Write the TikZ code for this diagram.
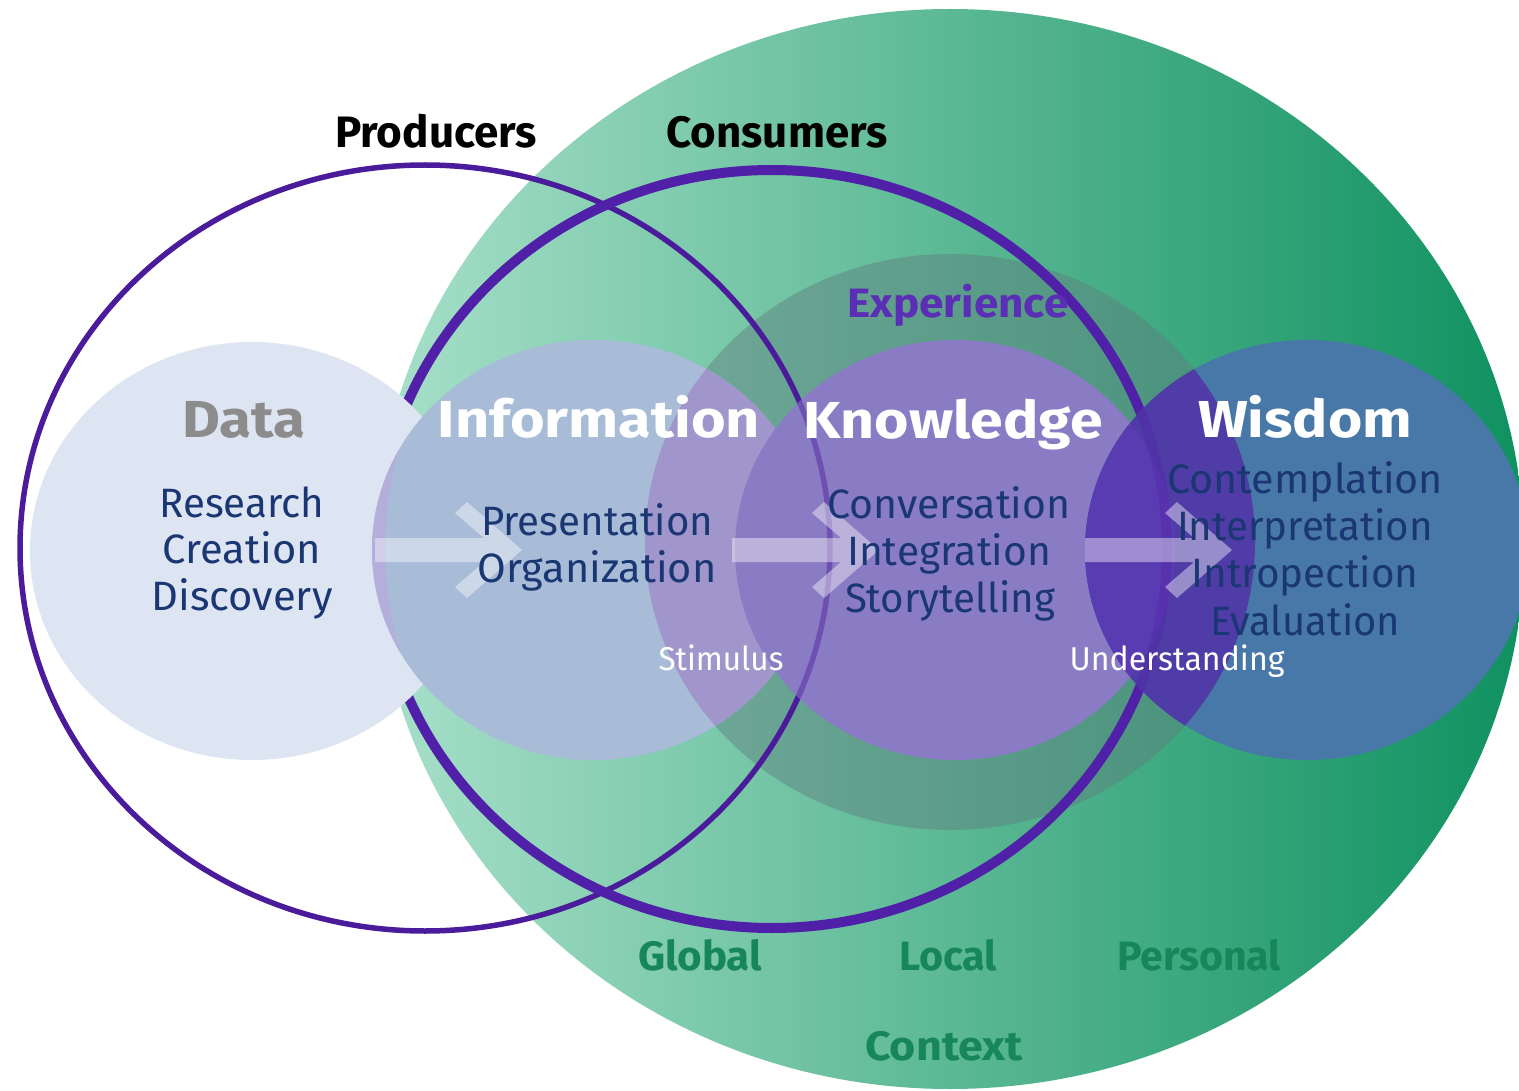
\documentclass[tikz,border=0pt]{standalone}
\usepackage{fontspec}
\setmainfont{Fira Sans}
\usepackage{graphicx}
\definecolor{gLeft}{HTML}{A8E0CA}
\definecolor{gRight}{HTML}{0F9160}
\definecolor{expC}{HTML}{5F7C7E}
\definecolor{lineP}{HTML}{4A1C9C}
\definecolor{lineC}{HTML}{5020A8}
\definecolor{dataC}{HTML}{DEE5F2}
\definecolor{infoC}{HTML}{A8BCD8}
\definecolor{lavC}{HTML}{A096CC}
\definecolor{bandC}{HTML}{B3AEDB}
\definecolor{knowC}{HTML}{8A7CC4}
\definecolor{wisC}{HTML}{4878A8}
\definecolor{lensC}{HTML}{4F3CA6}
\definecolor{lensK}{HTML}{5A3CB2}
\definecolor{navyC}{HTML}{1A3673}
\definecolor{expT}{HTML}{5B2FB5}
\definecolor{greenT}{HTML}{17875A}
\definecolor{grayT}{HTML}{8C8C8C}
\newcommand\fw[2]{\resizebox{#1pt}{\height}{#2}}
\begin{document}
\begin{tikzpicture}[x=1pt,y=-1pt,
  lbl/.style={inner sep=0pt, anchor=base},
  toplbl/.style={lbl, font=\bfseries\fontsize{44}{50}\selectfont, text=black},
  title/.style={lbl, font=\bfseries\fontsize{52}{60}\selectfont, text=white},
  datatitle/.style={lbl, font=\bfseries\fontsize{52}{60}\selectfont, text=grayT},
  exptitle/.style={lbl, font=\bfseries\fontsize{41}{48}\selectfont, text=expT},
  item/.style={lbl, font=\fontsize{41}{48}\selectfont, text=navyC},
  small/.style={lbl, font=\fontsize{33}{40}\selectfont, text=white},
  ctx/.style={lbl, font=\bfseries\fontsize{41}{48}\selectfont, text=greenT},
  prodline/.style={draw=lineP, line width=5.5pt},
  consline/.style={draw=lineC, line width=10pt},
  arrowfill/.style={fill=white, fill opacity=0.42}
]
\clip (0,0) rectangle (1519,1091);
\fill[white] (0,0) rectangle (1519,1091);

% Context (big green ellipse)
\shade[left color=gLeft, right color=gRight] (950,549) ellipse [x radius=574pt, y radius=540pt];

% Experience
\fill[expC, fill opacity=0.45] (950,542) ellipse [x radius=305pt, y radius=288pt];

% Producers and consumers outlines
\path[prodline] (425,548) ellipse [x radius=405pt, y radius=383pt];
\path[consline] (772,549) ellipse [x radius=395pt, y radius=379pt];

% Data
\fill[dataC] (252,551) ellipse [x radius=222pt, y radius=209pt];

% Information
\fill[infoC] (594,550) ellipse [x radius=222pt, y radius=210pt];
\begin{scope}
  \clip (594,550) ellipse [x radius=222pt, y radius=210pt];
  \draw[bandC, line width=16pt] (772,549) ellipse [x radius=395pt, y radius=379pt];
  \fill[lavC] (950,542) ellipse [x radius=305pt, y radius=288pt];
\end{scope}

% Knowledge
\fill[knowC] (955,550) ellipse [x radius=220pt, y radius=210pt];
\begin{scope}
  \clip (955,550) ellipse [x radius=220pt, y radius=210pt];
  \path[prodline, draw opacity=0.45] (425,548) ellipse [x radius=405pt, y radius=383pt];
  \path[consline, draw opacity=0.45] (772,549) ellipse [x radius=395pt, y radius=379pt];
\end{scope}

% Wisdom
\fill[wisC] (1307,550) ellipse [x radius=222pt, y radius=210pt];
\begin{scope}
  \clip (1307,550) ellipse [x radius=222pt, y radius=210pt];
  \fill[lensC] (950,542) ellipse [x radius=305pt, y radius=288pt];
  \fill[lensK] (955,550) ellipse [x radius=220pt, y radius=210pt];
  \begin{scope}
    \clip (950,542) ellipse [x radius=305pt, y radius=288pt];
    \path[consline, draw opacity=0.35] (772,549) ellipse [x radius=395pt, y radius=379pt];
  \end{scope}
\end{scope}

% Arrows
\foreach \s/\t in {375/522, 732/879, 1085/1232}{
  \fill[arrowfill] (\s,538) -- (\t-38,538) -- (\t-67,513) -- (\t-55,502) -- (\t,550)
    -- (\t-55,598) -- (\t-67,587) -- (\t-38,562) -- (\s,562) -- cycle;
}

% Labels
\node[toplbl] (producers) at (436,148) {\fw{202}{Producers}};
\node[toplbl] (consumers) at (777,148) {\fw{221}{Consumers}};
\node[exptitle] (experience) at (958,318) {\fw{221}{Experience}};

\node[datatitle] (data) at (244,438) {\fw{123}{Data}};
\node[title] (information) at (599,438) {\fw{322}{Information}};
\node[title] (knowledge) at (953,438) {\fw{299}{Knowledge}};
\node[title] (wisdom) at (1305,438) {\fw{214}{Wisdom}};

\node[item] (research) at (242,517) {\fw{165}{Research}};
\node[item] (creation) at (242,563) {\fw{158}{Creation}};
\node[item] (discovery) at (242,610) {\fw{181}{Discovery}};

\node[item] (presentation) at (597,535) {\fw{232}{Presentation}};
\node[item] (organization) at (597,582) {\fw{239}{Organization}};

\node[item] (conversation) at (949,518) {\fw{243}{Conversation}};
\node[item] (integration) at (949,565) {\fw{204}{Integration}};
\node[item] (storytelling) at (950,612) {\fw{210}{Storytelling}};

\node[item] (contemplation) at (1305,493) {\fw{276}{Contemplation}};
\node[item] (interpretation) at (1305,540) {\fw{256}{Interpretation}};
\node[item] (intropection) at (1305,587) {\fw{227}{Intropection}};
\node[item] (evaluation) at (1305,635) {\fw{190}{Evaluation}};

\node[small] (stimulus) at (721,670) {\fw{125}{Stimulus}};
\node[small] (understanding) at (1177,670) {\fw{215}{Understanding}};

\node[ctx] (global) at (700,970) {\fw{124}{Global}};
\node[ctx] (local) at (948,970) {\fw{98}{Local}};
\node[ctx] (personal) at (1199,970) {\fw{164}{Personal}};
\node[ctx] (context) at (944,1060) {\fw{158}{Context}};
\end{tikzpicture}
\end{document}
